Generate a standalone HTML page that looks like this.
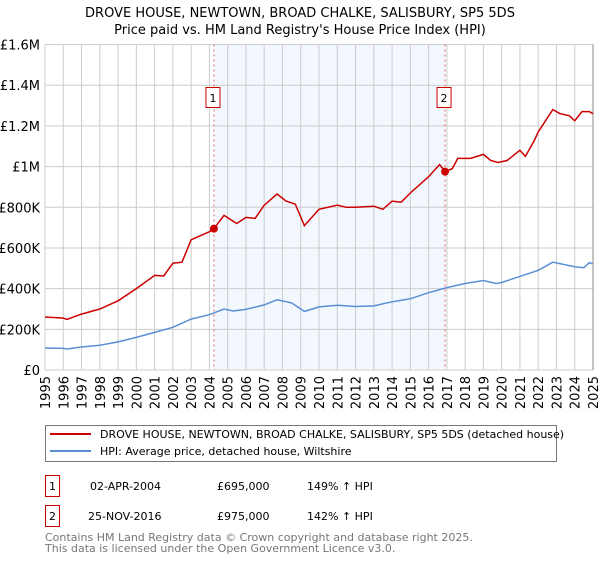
<!DOCTYPE html>
<html><head><meta charset="utf-8"><style>
body{margin:0;background:#fff;width:600px;height:560px;overflow:hidden;font-family:"Liberation Sans","DejaVu Sans",sans-serif}
svg text{font-family:"DejaVu Sans","Liberation Sans",sans-serif}
</style></head><body>
<svg id="chart" width="600" height="560" viewBox="0 0 600 560">
<text x="300" y="17" text-anchor="middle" font-size="13">DROVE HOUSE, NEWTOWN, BROAD CHALKE, SALISBURY, SP5 5DS</text>
<text x="300" y="34" text-anchor="middle" font-size="13">Price paid vs. HM Land Registry's House Price Index (HPI)</text>
<g id="plot"></g>
<rect x="45.5" y="425.5" width="511" height="36" fill="#fff" stroke="#777"/>
<line x1="50" y1="434" x2="91" y2="434" stroke="#cc0000" stroke-width="2"/>
<text x="100" y="438" font-size="11">DROVE HOUSE, NEWTOWN, BROAD CHALKE, SALISBURY, SP5 5DS (detached house)</text>
<line x1="50" y1="451" x2="91" y2="451" stroke="#5b8fd4" stroke-width="2"/>
<text x="100" y="455" font-size="11">HPI: Average price, detached house, Wiltshire</text>
<g>
<rect x="45.5" y="475.5" width="14" height="21" fill="none" stroke="#cc0000"/>
<text x="52.5" y="490" text-anchor="middle" font-size="11">1</text>
<text x="90" y="490" font-size="11">02-APR-2004</text>
<text x="217" y="490" font-size="11">£695,000</text>
<text x="307" y="490" font-size="11">149% ↑ HPI</text>
</g>
<g>
<rect x="45.5" y="505.5" width="14" height="21" fill="none" stroke="#cc0000"/>
<text x="52.5" y="520" text-anchor="middle" font-size="11">2</text>
<text x="88" y="520" font-size="11">25-NOV-2016</text>
<text x="217" y="520" font-size="11">£975,000</text>
<text x="307" y="520" font-size="11">142% ↑ HPI</text>
</g>
<text x="45" y="541" font-size="11" fill="#777">Contains HM Land Registry data © Crown copyright and database right 2025.</text>
<text x="45" y="552" font-size="11" fill="#777">This data is licensed under the Open Government Licence v3.0.</text>
</svg>
<script>
const yTicks=[0,200000,400000,600000,800000,1000000,1200000,1400000,1600000];
const yTickLabels=["£0","£200K","£400K","£600K","£800K","£1M","£1.2M","£1.4M","£1.6M"];
const xYears=[1995,1996,1997,1998,1999,2000,2001,2002,2003,2004,2005,2006,2007,2008,2009,2010,2011,2012,2013,2014,2015,2016,2017,2018,2019,2020,2021,2022,2023,2024,2025];
const hpiDates=[1995,1996,1996.2,1997,1998,1999,2000,2001,2002,2003,2004,2004.8,2005.3,2006,2007,2007.7,2008.5,2009.2,2010,2011,2012,2013,2014,2015,2016,2017,2018,2019,2019.7,2020,2021,2022,2022.8,2024,2024.5,2024.8,2025];
const hpiValues=[108000,106000,103000,113000,122000,138000,160000,185000,210000,250000,272000,300000,290000,298000,320000,345000,330000,288000,310000,318000,312000,315000,335000,350000,380000,405000,425000,440000,425000,430000,460000,490000,530000,508000,503000,528000,522000];
const propDates=[1995,1995.5,1996,1996.2,1997,1998,1999,2000,2001,2001.5,2002,2002.5,2003,2004,2004.25,2004.8,2005.5,2006,2006.5,2007,2007.7,2008.2,2008.7,2009.2,2010,2011,2011.5,2012,2013,2013.5,2014,2014.5,2015,2016,2016.6,2016.9,2017.3,2017.6,2018.3,2019,2019.4,2019.8,2020.3,2021,2021.3,2021.8,2022,2022.8,2023.2,2023.7,2024,2024.4,2024.8,2025];
const propValues=[260000,258000,255000,248000,275000,300000,340000,400000,465000,462000,525000,530000,640000,680000,695000,760000,720000,750000,745000,810000,865000,830000,815000,710000,790000,810000,800000,800000,805000,790000,830000,825000,870000,950000,1010000,975000,990000,1040000,1040000,1060000,1030000,1020000,1030000,1080000,1050000,1130000,1170000,1280000,1260000,1250000,1225000,1270000,1270000,1260000];
const sales=[{d:2004.25,v:695000,n:"1"},{d:2016.9,v:975000,n:"2"}];
const X0=45,X1=593,Y0=370,Y1=44.5;
const xs=d=>X0+(d-1995)/30*(X1-X0);
const ys=v=>Y0-v/1600000*(Y0-Y1);
const NS="http://www.w3.org/2000/svg";
const g=document.getElementById('plot');
function mk(t,a){const e=document.createElementNS(NS,t);for(const k in a)e.setAttribute(k,a[k]);g.appendChild(e);return e;}
let sh=mk('rect',{x:xs(sales[0].d),y:Y1,width:xs(sales[1].d)-xs(sales[0].d),height:Y0-Y1,fill:'#eef3fd',opacity:0.7});


yTicks.forEach((v,i)=>{
 let l=mk('line',{x1:X0,x2:X1,y1:ys(v),y2:ys(v),stroke:'#ccc'});
 
 
 let t=mk('text',{x:40,y:ys(v)+5,'text-anchor':'end','font-size':13});
 t.textContent=yTickLabels[i];
 
 
});
xYears.forEach(y=>{
 let l=mk('line',{x1:xs(y),x2:xs(y),y1:Y1,y2:Y0,stroke:'#ccc'});
 
 
 let t=mk('text',{x:0,y:0,'font-size':13,'text-anchor':'end',transform:`translate(${xs(y)+5},${Y0+6}) rotate(-90)`});
 t.textContent=y;
 
 
});
let ax=mk('line',{x1:X1,x2:X1,y1:Y1,y2:Y0,stroke:'#888'});


sales.forEach(s=>{
 let l=mk('line',{x1:xs(s.d),x2:xs(s.d),y1:Y1,y2:Y0,stroke:'#e06666','stroke-dasharray':'2,3'});
 
 
 let r=mk('rect',{x:xs(s.d)-8,y:87.5,width:14,height:20,fill:'#fff',stroke:'#cc0000'});
 
 
 let t=mk('text',{x:xs(s.d)-1,y:102,'text-anchor':'middle','font-size':11});
 t.textContent=s.n;
 
 
});
function path(ds,vs){return ds.map((d,i)=>(i?'L':'M')+xs(d).toFixed(1)+','+ys(vs[i]).toFixed(1)).join('');}
let hp=mk('path',{d:path(hpiDates,hpiValues),fill:'none',stroke:'#5b8fd4','stroke-width':1.5});


let pp=mk('path',{d:path(propDates,propValues),fill:'none',stroke:'#cc0000','stroke-width':1.5});


sales.forEach(s=>{
 let c=mk('circle',{cx:xs(s.d),cy:ys(s.v),r:4,fill:'#cc0000'});
 
 
});
</script>
</body></html>
